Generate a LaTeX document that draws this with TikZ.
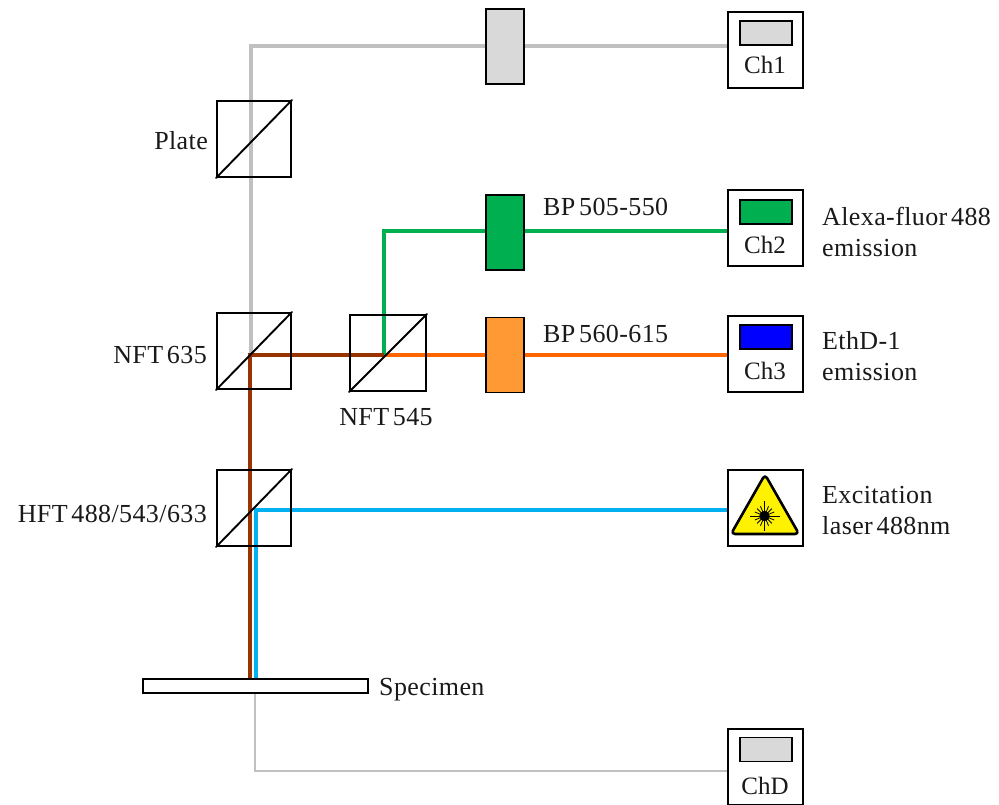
\documentclass[tikz,border=0pt]{standalone}
\usepackage{fontspec}
\setmainfont{Liberation Serif}
\newfontfamily\spacedfont[LetterSpace=1.5,WordSpace=0.55]{Liberation Serif}
\begin{document}
\begin{tikzpicture}[x=1pt,y=-1pt,
  box/.style={draw=black,line width=1.9pt,inner sep=0pt,minimum width=#1},
  cube/.style={box=74pt,minimum height=76pt},
  filterbox/.style={box=38pt,minimum height=75pt},
  det/.style={box=75pt,minimum height=76pt,fill=white},
  sensor/.style={box=52pt,minimum height=24pt},
  lbl/.style={inner sep=0pt,font=\spacedfont\fontsize{26}{31}\selectfont,align=left,text=black!90},
  chlbl/.style={inner sep=0pt,font=\fontsize{25}{29}\selectfont,text=black!90},
  beam/.style={line width=3.2pt,line join=miter},
  diag/.style={line width=1.9pt,line cap=round}]
\useasboundingbox (0,0) rectangle (999,805);
\definecolor{cgray}{HTML}{C0C0C0}
\definecolor{cbrown}{HTML}{993300}
\definecolor{corange}{HTML}{FF6600}
\definecolor{cgreen}{HTML}{00B050}
\definecolor{cblue}{HTML}{00B0F0}
\definecolor{forange}{HTML}{FF9933}
\definecolor{fgray}{HTML}{D9D9D9}
% corner points of the beams
\coordinate (gtop) at (251,46);
\coordinate (split1) at (251,355);
\coordinate (split2) at (384,355);
\coordinate (gcorner) at (384,231);
\coordinate (brownbot) at (250,679);
\coordinate (browntop) at (250,355);
\coordinate (bluebot) at (256,679);
\coordinate (bluetop) at (256,510);
\coordinate (thintop) at (255,693);
\coordinate (thincorner) at (255,771);
% detectors
\node[det] (ch1) at (765.5,50) {};
\node[det] (ch2) at (765.5,228) {};
\node[det] (ch3) at (765.5,354) {};
\node[det] (laser) at (765.5,508) {};
\node[det] (chd) at (765.5,767) {};
% beams
\draw[beam,cgray] (split1) -- (gtop) -- (ch1.west |- gtop);
\draw[beam,corange] (split2) -- (ch3.west |- split2);
\draw[beam,cgreen] (split2) -- (gcorner) -- (ch2.west |- gcorner);
\draw[beam,cbrown] (brownbot) -- (browntop) -- (split2);
\draw[beam,cblue] (bluebot) -- (bluetop) -- (laser.west |- bluetop);
\draw[cgray,line width=1.7pt] (thintop) -- (thincorner) -- (chd.west |- thincorner);
% cubes
\node[cube] (plate) at (254,139) {};
\node[cube] (nft635) at (254,351) {};
\node[cube,minimum width=76pt] (nft545) at (388,353) {};
\node[cube] (hft) at (254,508) {};
\foreach \n in {plate,nft635,nft545,hft}
  \draw[diag] (\n.south west) -- (\n.north east);
% filters
\node[filterbox,fill=fgray] (f1) at (505,46.5) {};
\node[filterbox,fill=cgreen] (f2) at (505,232.5) {};
\node[filterbox,fill=forange] (f3) at (505,355) {};
% sensors
\node[sensor,fill=fgray] (s1) at (766,33) {};
\node[sensor,fill=cgreen] (s2) at (766,212) {};
\node[sensor,fill=blue] (s3) at (766,337) {};
\node[sensor,fill=fgray] (sd) at (766,749.5) {};
% specimen
\node[box=225pt,minimum height=14pt,fill=white] (spec) at (255.5,686) {};
% laser warning sign
\coordinate (star) at (764.5,516);
\draw[fill=yellow,draw=black,line width=2.6pt,line join=round,rounded corners=4pt]
  (765,474.5) -- (799,534) -- (731,534) -- cycle;
\foreach \a in {0,90,180,270}
  \draw[black,line width=1pt] (star) -- ++(\a:15);
\foreach \a in {22.5,45,67.5,112.5,135,157.5,202.5,225,247.5,292.5,315,337.5}
  \draw[black,line width=.8pt] (star) -- ++(\a:10.5);
\fill[black] (star) circle (5.2);
% labels
\node[chlbl] (tch1) at (765,65) {Ch1};
\node[chlbl] (tch2) at (765,245) {Ch2};
\node[chlbl] (tch3) at (765,371) {Ch3};
\node[chlbl] (tchd) at (765,786) {ChD};
\node[lbl,anchor=east] (tplate) at (208,141) {Plate};
\node[lbl,anchor=east] (t635) at (207,355) {NFT 635};
\node[lbl,anchor=center] (t545) at (386,417) {NFT 545};
\node[lbl,anchor=east] (thft) at (207,514) {HFT 488/543/633};
\node[lbl,anchor=west] (tspec) at (379,690) {Specimen};
\node[lbl,anchor=west] (tbp1) at (543,207) {BP 505-550};
\node[lbl,anchor=west] (tbp2) at (543,334) {BP 560-615};
\node[lbl,anchor=west] (talexa) at (822,232) {Alexa-fluor 488\\emission};
\node[lbl,anchor=west] (teth) at (822,356) {EthD-1\\emission};
\node[lbl,anchor=west] (texc) at (822,511) {Excitation\\laser 488nm};
\end{tikzpicture}
\end{document}
